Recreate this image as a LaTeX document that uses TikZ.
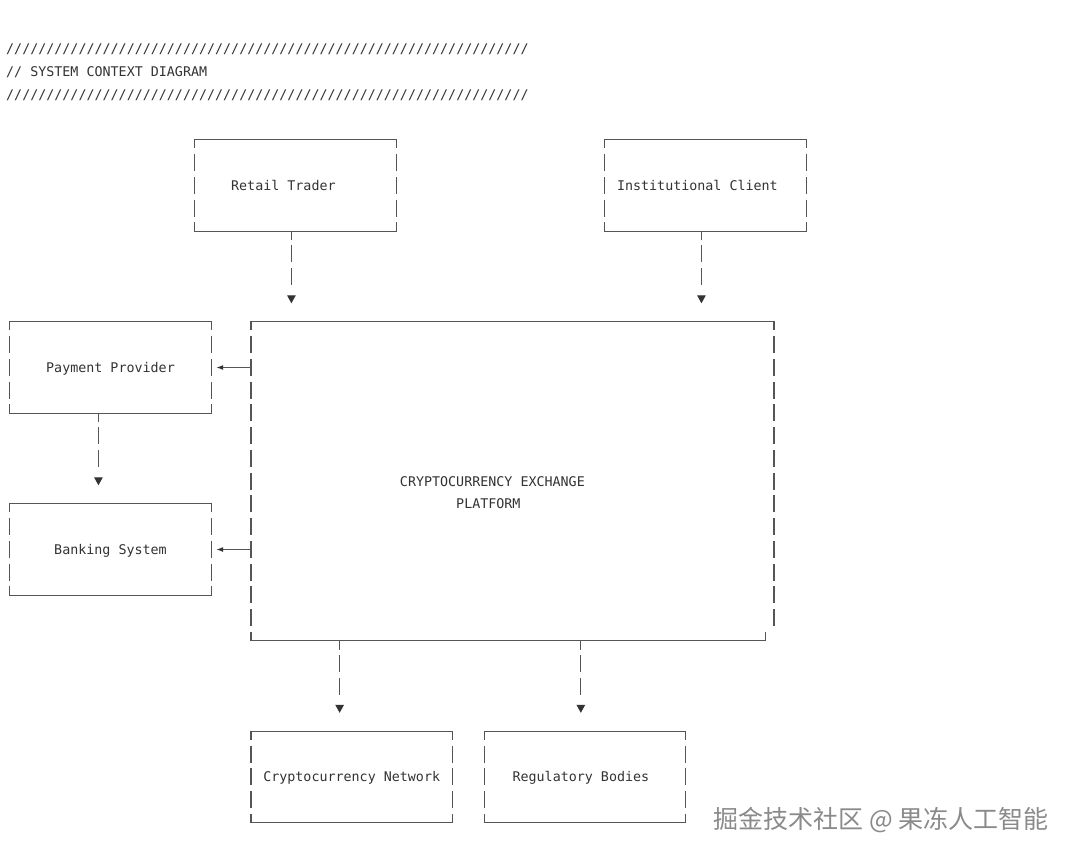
\documentclass[tikz,border=0pt]{standalone}
\usepackage{fontspec}
\newfontfamily\mono{DejaVu Sans Mono}
\newfontfamily\cjk{Noto Sans CJK SC}
\usetikzlibrary{arrows.meta,fit}
\definecolor{linec}{HTML}{555555}
\definecolor{textc}{HTML}{333333}
\definecolor{wmc}{HTML}{8A8A8A}
\newcommand\tenslash{//////////}
\newcommand\slashrow{\tenslash\tenslash\tenslash\tenslash\tenslash\tenslash/////}
\newcommand\boxedges[1]{%
  \draw[hedge] (#1.north west) -- (#1.north east);
  \draw[hedge] (#1.south west) -- (#1.south east);
  \draw[vedge] (#1.north west) -- (#1.south west);
  \draw[vedge] (#1.north east) -- (#1.south east);
}
\begin{document}
\begin{tikzpicture}[x=1pt,y=-1pt,
  lbl/.style={font=\mono\fontsize{13.35}{22.75}\selectfont, text=textc, inner sep=0pt, text height=9.7pt, text depth=0pt},
  mainlbl/.style={font=\mono\fontsize{13.35}{22.75}\selectfont, text=textc, inner sep=0pt, align=center},
  boxarea/.style={inner sep=0pt, draw=none},
  hedge/.style={draw=linec, line width=1.1pt, line cap=rect},
  vedge/.style={draw=linec, line width=1.1pt, dash pattern=on 17pt off 5.75pt, dash phase=8.5pt},
  downconn/.style={draw=linec, line width=1.1pt, dash pattern=on 9pt off 5.25pt on 17pt off 5.75pt on 17pt off 40pt, shorten >=18.5pt, -{Triangle[width=8.5pt,length=8pt,color=textc]}},
  leftconn/.style={draw=linec, line width=1.1pt, shorten >=5pt, -{Latex[width=5pt,length=7pt,color=textc]}},
]
\fill[white] (0,0) rectangle (1073,857);
\useasboundingbox (0,0) rectangle (1073,857);

% column coordinates
\coordinate (k11) at (98.44,0);
\coordinate (k35) at (291.4,0);
\coordinate (k41) at (339.64,0);
\coordinate (k71) at (580.84,0);
\coordinate (k86) at (701.44,0);
\coordinate (k94) at (765.76,0);

% header
\node[lbl, anchor=west] (hdr1) at (6,49) {\slashrow};
\node[lbl, anchor=west] (hdr2) at (6,71.75) {// SYSTEM CONTEXT DIAGRAM};
\node[lbl, anchor=west] (hdr3) at (6,94.5) {\slashrow};

% boxes
\node[boxarea, fit={(194.9,140) (395.9,231)}] (retail) {};
\node[boxarea, fit={(604.96,140) (805.96,231)}] (inst) {};
\node[boxarea, fit={(10,322) (211,413)}] (payment) {};
\node[boxarea, fit={(10,504) (211,595)}] (banking) {};
\node[boxarea, fit={(251.2,322) (773.8,640.5)}] (main) {};
\node[boxarea, fit={(251.2,731.5) (452.2,822.5)}] (cnet) {};
\node[boxarea, fit={(484.36,731.5) (685.36,822.5)}] (reg) {};

\boxedges{retail}
\boxedges{inst}
\boxedges{payment}
\boxedges{banking}
\boxedges{cnet}
\boxedges{reg}

% main box (irregular bottom-right corner)
\draw[hedge] (main.north west) -- (main.north east);
\draw[vedge] (main.north west) -- (main.south west);
\draw[vedge] (main.north east) -- ++(0,304.25);
\draw[hedge] (main.south west) -- (k94 |- main.south);
\draw[hedge] (k94 |- main.south) -- ++(0,-8.5);

% labels
\node[lbl] (retailt) at (283.4,185.5) {Retail Trader};
\node[lbl] (instt) at (697.4,185.5) {Institutional Client};
\node[lbl] (paymentt) at (110.5,367.5) {Payment Provider};
\node[lbl] (bankingt) at (110.5,549.5) {Banking System};
\node[mainlbl] (maint) at (492.4,492.6) {CRYPTOCURRENCY EXCHANGE\\PLATFORM\hspace*{8.04pt}};
\node[lbl] (cnett) at (351.7,777) {Cryptocurrency Network};
\node[lbl] (regt) at (580.9,777) {Regulatory Bodies};

% connectors
\draw[downconn] (retail.south -| k35) -- (main.north -| k35);
\draw[downconn] (inst.south -| k86) -- (main.north -| k86);
\draw[downconn] (payment.south -| k11) -- (banking.north -| k11);
\draw[downconn] (main.south -| k41) -- (cnet.north -| k41);
\draw[downconn] (main.south -| k71) -- (reg.north -| k71);
\draw[leftconn] (main.west |- payment.east) -- (payment.east);
\draw[leftconn] (main.west |- banking.east) -- (banking.east);

% watermark
\node[font=\cjk\fontsize{25}{30}\selectfont, text=wmc, inner sep=0pt] (wm) at (881,820) {掘金技术社区 @ 果冻人工智能};
\end{tikzpicture}
\end{document}
